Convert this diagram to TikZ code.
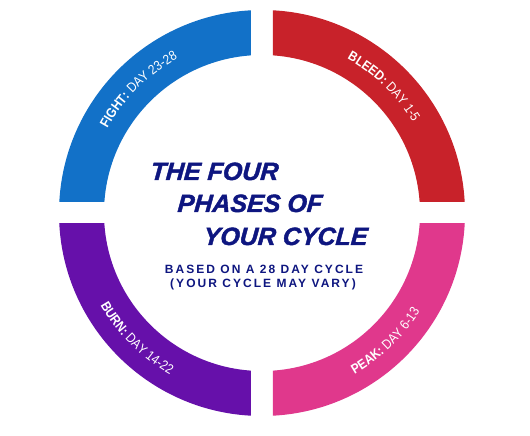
\documentclass[tikz,border=0pt]{standalone}
\usepackage{fontspec}
\setmainfont{Liberation Sans}
\newfontfamily\spacedfont{Liberation Sans}[LetterSpace=17]
\newfontfamily\labelfam{Liberation Sans}[FakeStretch=0.88]
\newfontfamily\heavyfam{Liberation Sans Bold Italic}[FakeBold=1.6, FakeSlant=0.08]
\usetikzlibrary{decorations.text}
\definecolor{cblue}{RGB}{18,113,200}
\definecolor{cred}{RGB}{200,34,42}
\definecolor{cpurple}{RGB}{102,16,170}
\definecolor{cpink}{RGB}{224,56,140}
\definecolor{cnavy}{RGB}{14,22,128}
\newcommand\lblfont{\labelfam\fontsize{13.5}{15}\selectfont}
\newcommand\bigtitlefont{\heavyfam\fontsize{25}{30}\selectfont}
\newcommand\subtitlefont{\spacedfont\fontsize{12}{14}\selectfont\bfseries}
\tikzset{
  titleline/.style={anchor=base west, inner sep=0pt, text=cnavy, font=\bigtitlefont},
  subline/.style={anchor=base, inner sep=0pt, text=cnavy, font=\subtitlefont},
  ringlabel/.style={decorate, decoration={text along path, text align=center, text color=white, text={#1}}}
}
\begin{document}
\begin{tikzpicture}[x=1pt,y=1pt]
\useasboundingbox (-262,-223) rectangle (268,213);
\fill[white] (-262,-223) rectangle (268,213);
\def\ro{203}
\def\ri{158}
\def\g{11}
% ring quadrants
\begin{scope}
  \clip (\g,\g) rectangle (230,230);
  \fill[cred,even odd rule] (0,0) circle[radius=\ro] (0,0) circle[radius=\ri];
\end{scope}
\begin{scope}
  \clip (-\g,\g) rectangle (-230,230);
  \fill[cblue,even odd rule] (0,0) circle[radius=\ro] (0,0) circle[radius=\ri];
\end{scope}
\begin{scope}
  \clip (-\g,-\g) rectangle (-230,-230);
  \fill[cpurple,even odd rule] (0,0) circle[radius=\ro] (0,0) circle[radius=\ri];
\end{scope}
\begin{scope}
  \clip (\g,-\g) rectangle (230,-230);
  \fill[cpink,even odd rule] (0,0) circle[radius=\ro] (0,0) circle[radius=\ri];
\end{scope}
% ring labels
\path[ringlabel={|\lblfont\bfseries|FIGHT:|\lblfont| DAY 23-28}] (175:176) arc[start angle=175, end angle=95, radius=176];
\path[ringlabel={|\lblfont\bfseries|BLEED:|\lblfont| DAY 1-5}] (86:176) arc[start angle=86, end angle=6, radius=176];
\path[ringlabel={|\lblfont\bfseries|BURN:|\lblfont| DAY 14-22}] (185:186) arc[start angle=185, end angle=265, radius=186];
\path[ringlabel={|\lblfont\bfseries|PEAK:|\lblfont| DAY 6-13}] (274:186) arc[start angle=274, end angle=354, radius=186];
% title
\node[titleline] (t1) at (-112,33) {THE FOUR};
\node[titleline] (t2) at (-85,1) {PHASES OF};
\node[titleline] (t3) at (-59,-32) {YOUR CYCLE};
\node[subline] (s1) at (2,-61) {BASED ON A 28 DAY CYCLE};
\node[subline] (s2) at (1,-75) {(YOUR CYCLE MAY VARY)};
\end{tikzpicture}
\end{document}
